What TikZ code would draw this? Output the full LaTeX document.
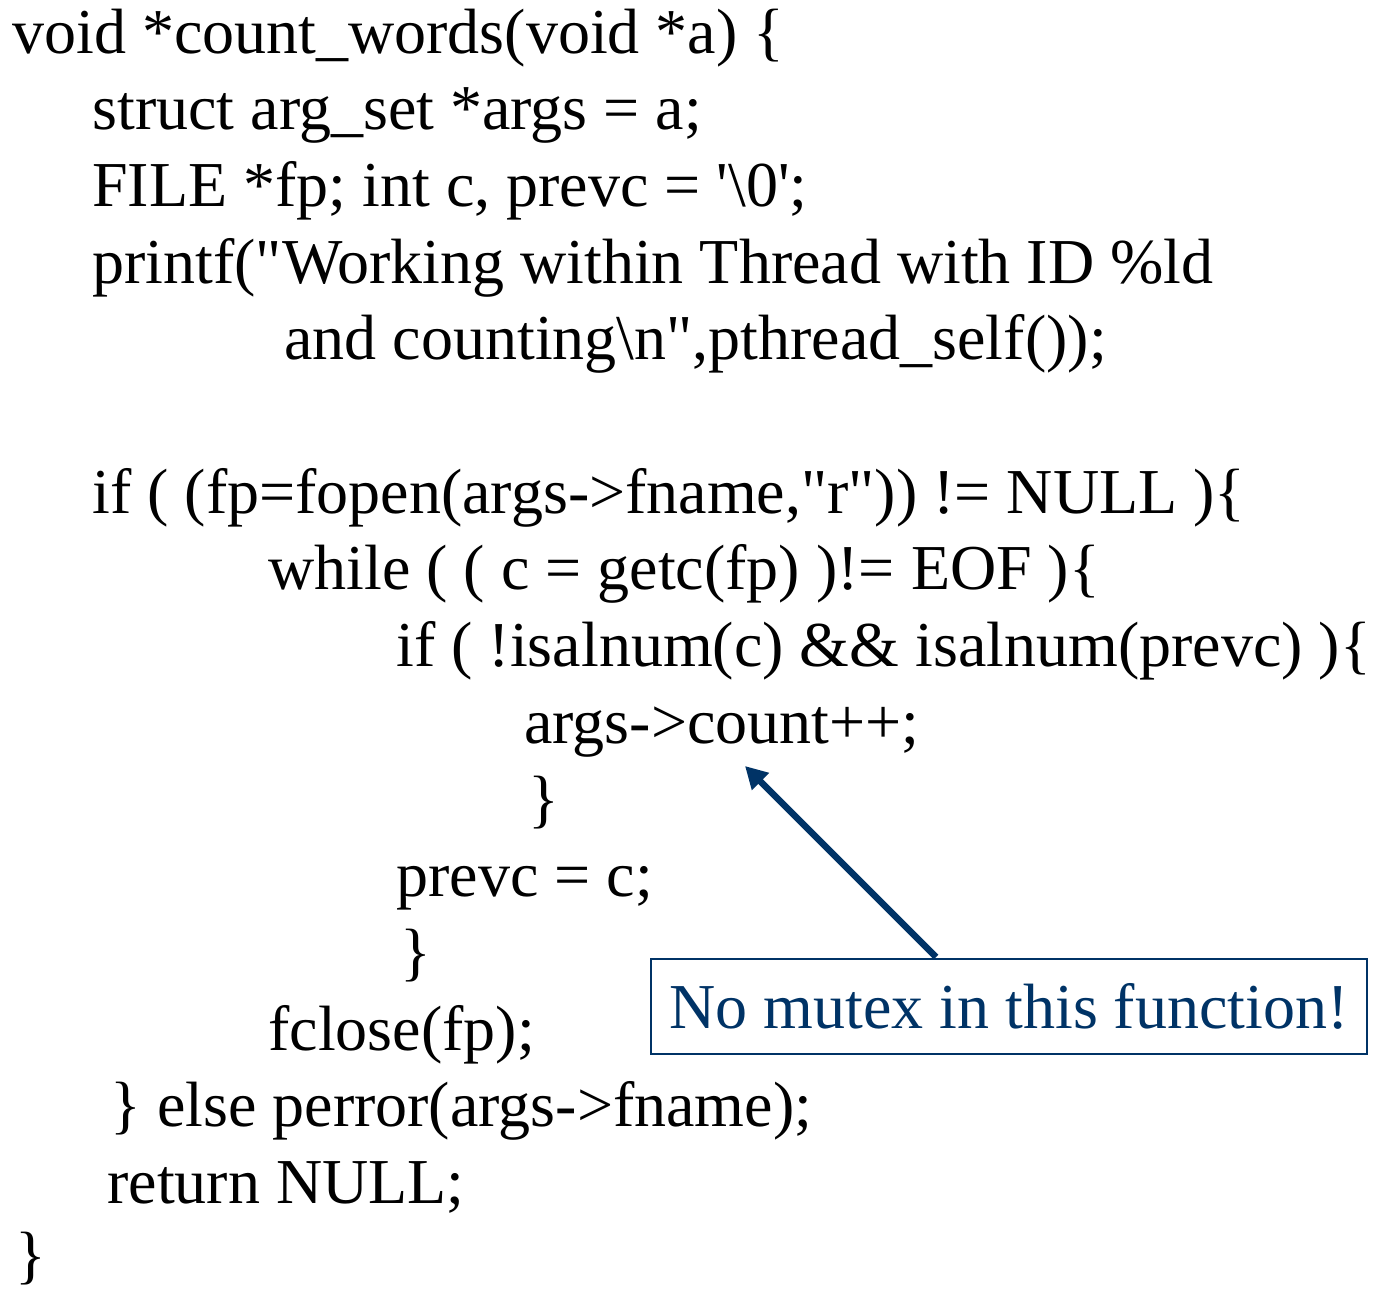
\documentclass[tikz,border=0pt]{standalone}
\usepackage{fontspec}
\setmainfont{Liberation Serif}
\setmonofont{Liberation Serif}
\usetikzlibrary{arrows.meta}
\definecolor{navy}{RGB}{0,51,102}
\newcommand{\sq}{\symbol{39}}
\newcommand{\dq}{\symbol{34}}
\tikzset{
  codeline/.style={anchor=base west, inner sep=0pt, font=\ttfamily\fontsize{32pt}{38pt}\selectfont, text=black},
  notebox/.style={draw=navy, line width=1pt, text=navy, inner sep=0pt, minimum width=358pt, minimum height=47.5pt, font=\fontsize{32pt}{38pt}\selectfont},
  pointer/.style={draw=navy, line width=3.2pt, -{Triangle[length=11pt,width=11.5pt]}}
}
\begin{document}
\begin{tikzpicture}[x=0.5pt,y=-0.5pt]
\useasboundingbox (0,0) rectangle (1381,1291);
\def\bl#1{53+76.7*#1}
\node[codeline] (l0)  at (12,{\bl{0}})  {void *count\_words(void *a) \{};
\node[codeline] (l1)  at (92,{\bl{1}})  {struct arg\_set *args = a;};
\node[codeline] (l2)  at (92,{\bl{2}})  {FILE *fp; int c, prevc = \sq\textbackslash 0\sq;};
\node[codeline] (l3)  at (92,{\bl{3}})  {printf(\dq Working within Thread with ID \%ld};
\node[codeline] (l4)  at (284,{\bl{4}}) {and counting\textbackslash n\dq,pthread\_self());};
\node[codeline] (l6)  at (92,{\bl{6}})  {if ( (fp=fopen(args->fname,\dq r\dq)) != NULL )\{};
\node[codeline] (l7)  at (268,{\bl{7}}) {while ( ( c = getc(fp) )!= EOF )\{};
\node[codeline] (l8)  at (396,{\bl{8}}) {if ( !isalnum(c) \&\& isalnum(prevc) )\{};
\node[codeline] (l9)  at (524,{\bl{9}}) {args->count++;};
\node[codeline] (l10) at (528,{\bl{10}}) {\}};
\node[codeline] (l11) at (396,{\bl{11}}) {prevc = c;};
\node[codeline] (l12) at (400,{\bl{12}}) {\}};
\node[codeline] (l13) at (268,{\bl{13}}) {fclose(fp);};
\node[codeline] (l14) at (110,{\bl{14}}) {\} else perror(args->fname);};
\node[codeline] (l15) at (107,{\bl{15}}) {return NULL;};
\node[codeline] (l16) at (15,{\bl{16}-4})  {\}};
\node[notebox] (box) at (1009,1006) {No mutex in this function!};
\coordinate (tail) at (936,957);
\coordinate (tip) at (745,766);
\draw[pointer] (tail) -- (tip);
\end{tikzpicture}
\end{document}
